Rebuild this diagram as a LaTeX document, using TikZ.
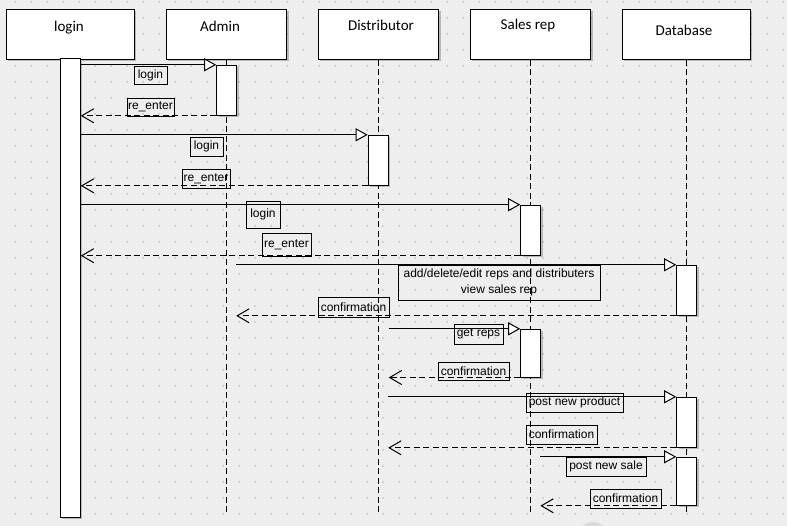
\documentclass[tikz,border=0pt]{standalone}
\usepackage{fontspec}
\setmainfont{Liberation Sans}
\newfontfamily\hdrfont{Carlito}
\usetikzlibrary{arrows.meta,shadows}
\definecolor{bgc}{HTML}{EEEEEE}
\definecolor{dotc}{HTML}{D2D2D2}
\definecolor{blobc}{HTML}{DADADA}
\tikzset{
  shd/.style={drop shadow={shadow xshift=1.8pt,shadow yshift=-1.8pt,fill=black,opacity=0.22}},
  hdrbox/.style={draw=black,line width=1.2pt,fill=white,shd,inner sep=0pt,minimum width=128pt,minimum height=50pt},
  hdrtxt/.style={font=\hdrfont\fontsize{15}{17}\selectfont,inner sep=0pt,text=black},
  actbar/.style={draw=black,line width=1pt,fill=white,shd,inner sep=0pt,minimum width=20pt},
  lifeln/.style={line width=1pt,dash pattern=on 6pt off 3.5pt},
  lbl/.style={draw=black,line width=0.8pt,inner sep=0pt,font=\fontsize{12}{15.3}\selectfont,minimum height=19pt},
  syncmsg/.style={line width=1pt,-{Triangle[length=12pt,width=13pt,fill=white,line width=1pt]}},
  retmsg/.style={line width=1pt,dash pattern=on 6pt off 3.5pt,-{Straight Barb[length=12pt,width=14pt,line width=1pt]}}
}
\begin{document}
\begin{tikzpicture}[x=1pt,y=-1pt]
\useasboundingbox (0,0) rectangle (787,526);
\clip (0,0) rectangle (787,526);
\fill[bgc] (0,0) rectangle (787,526);
\foreach \x in {15,31,...,783}{
  \foreach \y in {2,18,...,514}{
    \fill[dotc] (\x-1,\y-1) rectangle +(2,2);
  }
}
\fill[blobc] (593,537) circle (15);

% headers
\node[hdrbox] (login) at (70.2,34.3) {};
\node[hdrbox,minimum width=120.4pt] (admin) at (226.5,34.3) {};
\node[hdrbox,minimum width=120.4pt] (dist) at (378.5,34.3) {};
\node[hdrbox,minimum width=120.4pt] (sales) at (530.5,34.3) {};
\node[hdrbox] (db) at (686.5,34.3) {};
\node[hdrtxt] (loginT) at (69,28) {login};
\node[hdrtxt] (adminT) at (220,26) {Admin};
\node[hdrtxt] (distT) at (381,25) {Distributor};
\node[hdrtxt] (salesT) at (528,26) {Sales rep};
\node[hdrtxt] (dbT) at (684,30) {Database};

% lifeline ends
\coordinate (adminE) at (226.7,514);
\coordinate (distE) at (378.7,514);
\coordinate (salesE) at (530.7,514);
\coordinate (dbE) at (686.7,514);
\draw[lifeln] (admin.south -| adminE) -- (adminE);
\draw[lifeln] (dist.south -| distE) -- (distE);
\draw[lifeln] (sales.south -| salesE) -- (salesE);
\draw[lifeln] (db.south -| dbE) -- (dbE);

% activation bars
\node[actbar,minimum height=458pt] (lbar) at (70.3,288) {};
\node[actbar,minimum height=50pt] (a1) at (226.7,90.3) {};
\node[actbar,minimum height=50pt] (a2) at (378.2,160.3) {};
\node[actbar,minimum height=50pt] (a3) at (530.7,230.2) {};
\node[actbar,minimum height=50pt] (a4) at (686.7,290.3) {};
\node[actbar,minimum height=47.7pt] (a5) at (530.7,353.2) {};
\node[actbar,minimum height=50pt] (a6) at (686.7,422.3) {};
\node[actbar,minimum height=48pt] (a7) at (686.7,481.3) {};

% free ends of messages from/to lifelines without bars
\coordinate (adminP) at (236.2,265.3);
\coordinate (distP) at (388.2,397.3);
\coordinate (salesP) at (540.4,457.3);

% messages
\draw[syncmsg] (lbar.east |- a1.north west) -- (a1.north west);
\draw[retmsg] (a1.south west) -- (lbar.east |- a1.south west);
\draw[syncmsg] (lbar.east |- a2.north west) -- (a2.north west);
\draw[retmsg] (a2.south west) -- (lbar.east |- a2.south west);
\draw[syncmsg] (lbar.east |- a3.north west) -- (a3.north west);
\draw[retmsg] (a3.south west) -- (lbar.east |- a3.south west);
\draw[syncmsg] (adminP |- a4.north west) -- (a4.north west);
\draw[retmsg] (a4.south west) -- (adminP |- a4.south west);
\draw[syncmsg] (a2.east |- a5.north west) -- (a5.north west);
\draw[retmsg] (a5.south west) -- (a2.east |- a5.south west);
\draw[syncmsg] (distP |- a6.north west) -- (a6.north west);
\draw[retmsg] (a6.south west) -- (distP |- a6.south west);
\draw[syncmsg] (salesP |- a7.north west) -- (a7.north west);
\draw[retmsg] (a7.south west) -- (salesP |- a7.south west);

% labels
\node[lbl,minimum width=33pt,minimum height=18pt] (l1) at (150.5,75) {login};
\node[lbl,minimum width=47pt,minimum height=18pt] (l2) at (150.5,107) {re\_enter};
\node[lbl,minimum width=33pt] (l3) at (206.5,146.5) {login};
\node[lbl,minimum width=48pt] (l4) at (206,178.5) {re\_enter};
\node[lbl,minimum width=34pt,minimum height=27pt] (l5) at (263,214.5) {login};
\node[lbl,minimum width=49pt,minimum height=23pt] (l6) at (286.5,244.5) {re\_enter};
\node[lbl,minimum width=202pt,minimum height=35pt,align=center] (l7) at (499,282.5) {add/delete/edit reps and distributers\\view sales rep};
\node[lbl,minimum width=71pt,minimum height=20pt] (l8) at (353.5,307) {confirmation};
\node[lbl,minimum width=49pt,minimum height=20pt] (l9) at (478.5,334) {get reps};
\node[lbl,minimum width=71pt,minimum height=18pt] (l10) at (473.5,371) {confirmation};
\node[lbl,minimum width=97pt] (l11) at (574.5,402.5) {post new product};
\node[lbl,minimum width=71pt] (l12) at (561.5,434.5) {confirmation};
\node[lbl,minimum width=80pt] (l13) at (606,466.5) {post new sale};
\node[lbl,minimum width=71pt] (l14) at (625.5,498.5) {confirmation};
\end{tikzpicture}
\end{document}
